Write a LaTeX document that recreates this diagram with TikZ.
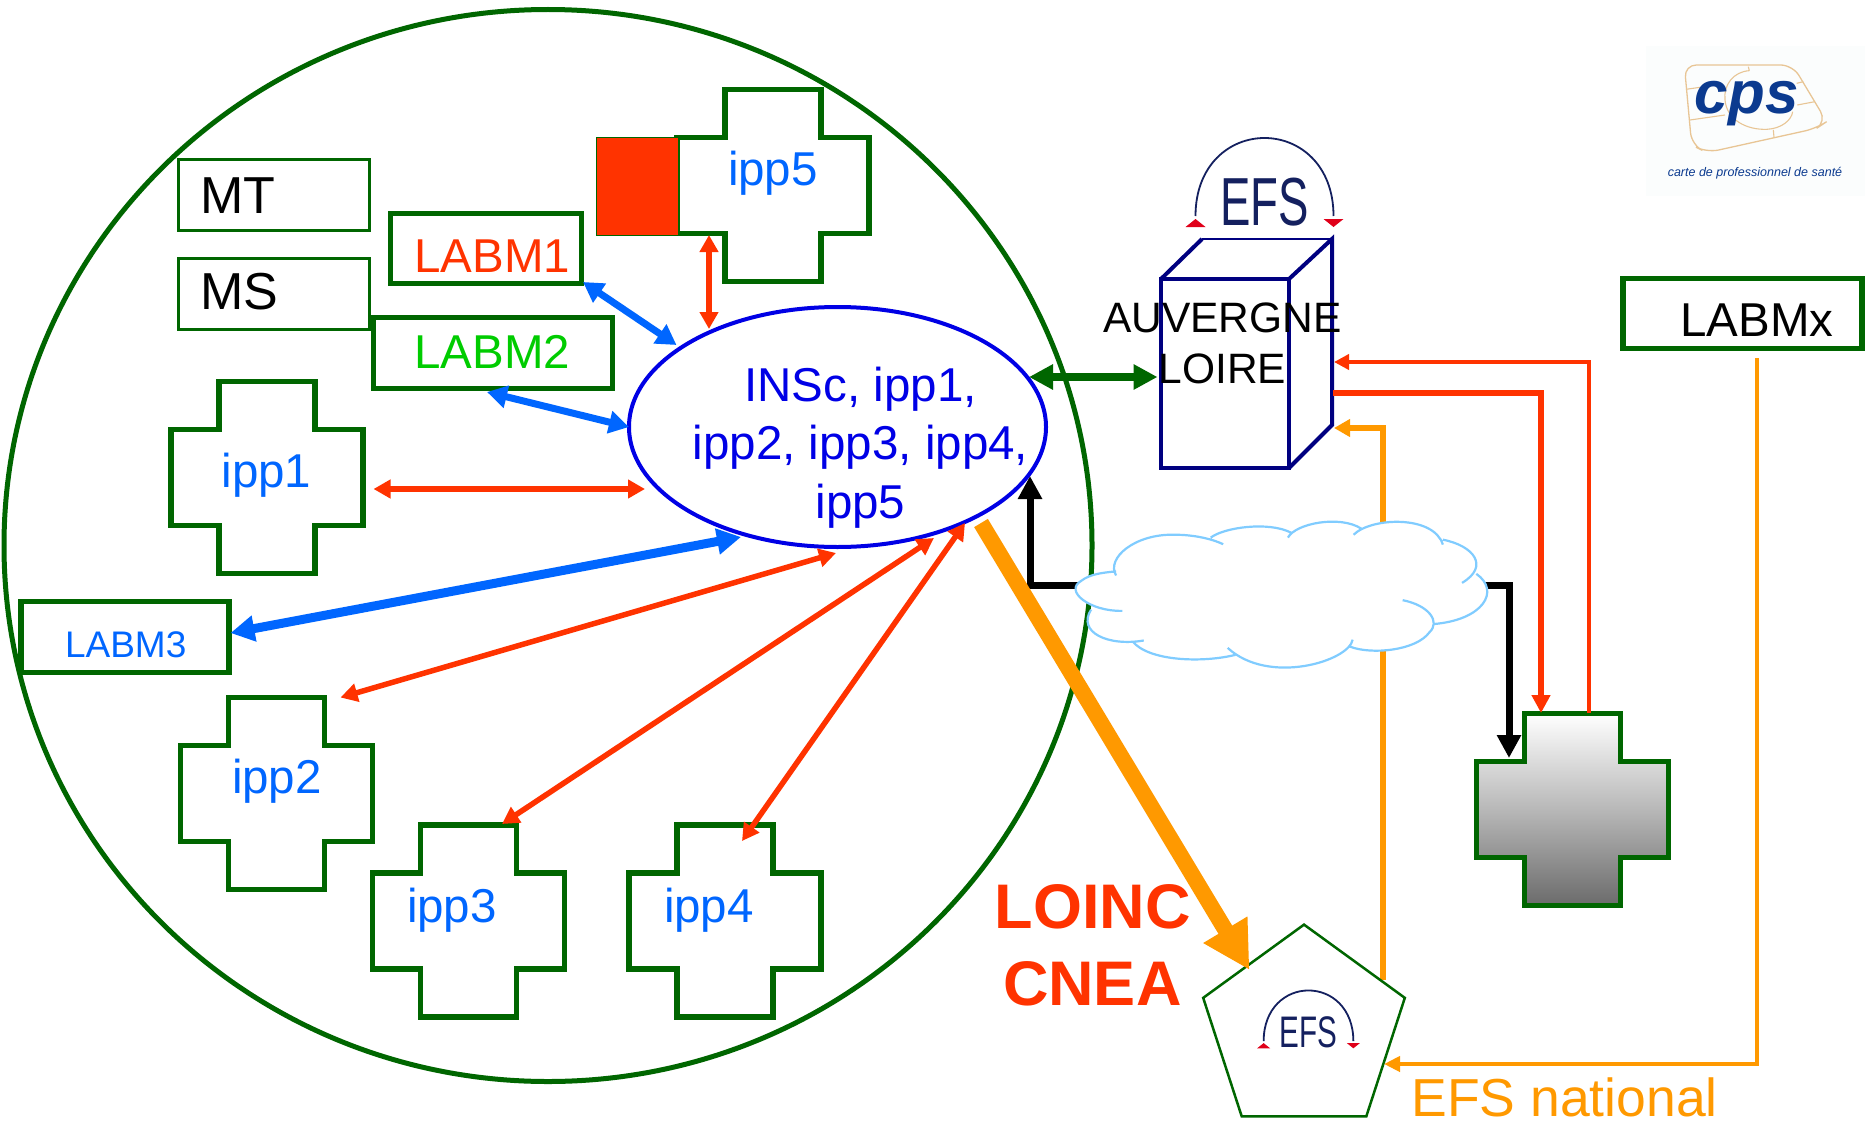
\documentclass[tikz,border=0pt]{standalone}
\usepackage{fontspec}
\usepackage{graphicx}
\setmainfont{Liberation Sans}
\usetikzlibrary{arrows.meta,shapes.geometric}
\definecolor{dgreen}{HTML}{006600}
\definecolor{myred}{HTML}{FF3300}
\definecolor{myblue}{HTML}{0066FF}
\definecolor{insblue}{HTML}{0000E6}
\definecolor{myorange}{HTML}{FF9900}
\definecolor{lgreen}{HTML}{00CC00}
\definecolor{navybox}{HTML}{000080}
\definecolor{cloudblue}{HTML}{80CCFF}
\definecolor{efsnavy}{HTML}{14205F}
\definecolor{efsred}{HTML}{E0001A}
\definecolor{cardtan}{HTML}{E8C595}
\definecolor{cpsblue}{HTML}{0B3A8F}
\definecolor{logobg}{HTML}{FBFDFD}
\tikzset{
  txt/.style={anchor=base west,inner sep=0pt,outer sep=0pt},
  fs47/.style={font=\fontsize{47.5}{59}\selectfont},
  crossline/.style={draw=dgreen,line width=5.5pt,miter limit=10},
  crossanchor/.style={minimum size=192pt,inner sep=0pt,outer sep=0pt},
  thinbox/.style={draw=dgreen,line width=3pt,inner sep=0pt,outer sep=0pt},
  thickbox/.style={draw=dgreen,line width=5.5pt,inner sep=0pt,outer sep=0pt},
  reddbl/.style={draw=myred,line width=5.5pt,{Triangle[length=17pt,width=18pt]}-{Triangle[length=17pt,width=18pt]}},
  bluedbl/.style={draw=myblue,line width=7pt,{Triangle[length=20pt,width=22pt]}-{Triangle[length=20pt,width=22pt]}},
  bigbluedbl/.style={draw=myblue,line width=9pt,{Triangle[length=24pt,width=25pt]}-{Triangle[length=24pt,width=25pt]}},
  greendbl/.style={draw=dgreen,line width=8pt,{Triangle[length=24pt,width=24pt]}-{Triangle[length=24pt,width=24pt]}},
  blackarrow/.style={draw=black,line width=7pt,-{Triangle[length=23pt,width=23pt]}},
  redthick/.style={draw=myred,line width=6pt,-{Triangle[length=18pt,width=18pt]}},
  redthin/.style={draw=myred,line width=4.5pt,-{Triangle[length=15pt,width=15pt]}},
  orangeline/.style={draw=myorange,line width=6pt,-{Triangle[length=16pt,width=17pt]}},
  orangethin/.style={draw=myorange,line width=4pt,-{Triangle[length=16pt,width=15pt]}},
  orangebig/.style={draw=myorange,line width=16pt,-{Triangle[length=47pt,width=48pt]}},
}
\newcommand{\crossnode}[4]{%
  \path[crossline,#4] (#2,#3) ++(-48,-96) -- ++(96,0) -- ++(0,48) -- ++(48,0) -- ++(0,96) -- ++(-48,0) -- ++(0,48) -- ++(-96,0) -- ++(0,-48) -- ++(-48,0) -- ++(0,-96) -- ++(48,0) -- cycle;
  \node[crossanchor] (#1) at (#2,#3) {};
}
\newcommand{\efslogo}[4]{%
  \begin{scope}[shift={(#2,#3)},scale=#4,transform shape]
    \draw[efsnavy,line width=1.8pt] (-69,-9) .. controls (-69,-60) and (-35,-87) .. (0,-87) .. controls (35,-87) and (69,-60) .. (69,-9);
    \fill[efsred] (-79,2) -- (-59,2) -- (-69,-6) -- cycle;
    \fill[efsred] (59,-6) -- (79,-6) -- (69,2) -- cycle;
    \node[anchor=base,inner sep=0pt,text=efsnavy,font=\fontsize{68}{68}\selectfont] (#1) at (0,0) {\scalebox{.67}[1]{EFS}};
  \end{scope}
}
\begin{document}
\begin{tikzpicture}[x=1pt,y=-1pt]
\useasboundingbox (0,0) rectangle (1865,1124);
\fill[white] (0,0) rectangle (1865,1124);

% main circle
\node[ellipse,draw=dgreen,line width=5pt,minimum width=1088pt,minimum height=1072pt,inner sep=0pt,outer sep=0pt] (zone) at (548,545.5) {};

% cps logo
\fill[logobg] (1646,46) rectangle (1865,196);
\begin{scope}[shift={(1600,30)},x=.3333pt,y=-.3333pt]
  \draw[cardtan,line width=1.3pt,rounded corners=12pt] (253,105) -- (578,105) -- (680,275) -- (650,295) -- (320,368) -- (275,345) -- cycle;
  \draw[cardtan,line width=1.1pt] (258,178) -- (300,172) (270,270) -- (375,255) (592,225) -- (645,215) (590,160) -- (610,155) (520,300) -- (522,322) (445,110) -- (448,122);
  \draw[cardtan,line width=1.1pt] (448,122) .. controls (400,125) and (370,165) .. (375,210) .. controls (380,270) and (440,300) .. (500,298) .. controls (545,296) and (575,270) .. (578,245);
  \node[anchor=base,inner sep=0pt,text=cpsblue,font=\fontsize{60}{60}\bfseries\itshape\selectfont] (cpsname) at (440,250) {cps};
  \node[anchor=base,inner sep=0pt,text=cpsblue,font=\fontsize{12.5}{14}\itshape\selectfont] (cpstag) at (465,440) {carte de professionnel de santé};
\end{scope}

% crosses
\crossnode{ipp1}{267}{477.5}{}
\crossnode{ipp2}{276.5}{793.5}{}
\crossnode{ipp3}{468.6}{921}{}
\crossnode{ipp4}{725}{921}{}
\crossnode{ipp5}{773}{185.5}{}
\crossnode{gross}{1572.5}{809.5}{top color=white,bottom color=black!58,middle color=black!28}
\node[fill=myred,draw=dgreen,line width=1.5pt,minimum width=82pt,minimum height=98pt,inner sep=0pt,outer sep=0pt] (redbox) at (637.5,186.5) {};

% boxes
\node[thinbox,minimum width=191pt,minimum height=71pt] (mt) at (273.5,194.5) {};
\node[thinbox,minimum width=191pt,minimum height=71pt] (ms) at (273.5,293.5) {};
\node[thickbox,minimum width=191pt,minimum height=70pt] (labm1) at (486,248.5) {};
\node[thickbox,fill=white,minimum width=239pt,minimum height=71pt] (labm2) at (493,353) {};
\node[thickbox,minimum width=208pt,minimum height=71pt] (labm3) at (125,637) {};
\node[thickbox,minimum width=239pt,minimum height=70pt] (labmx) at (1742.5,313.5) {};

% ellipse
\node[ellipse,draw=blue!90!black,line width=4pt,minimum width=417pt,minimum height=240pt,inner sep=0pt,outer sep=0pt] (ins) at (837.5,427) {};

% cube
\node[draw=navybox,line width=4pt,minimum width=128pt,minimum height=189pt,inner sep=0pt,outer sep=0pt] (cube) at (1225,373.5) {};
\draw[navybox,line width=4pt,line join=miter] (cube.north west) -- (1202,239);
\draw[navybox,line width=1.5pt] (1202,239) -- (1332,239);
\draw[navybox,line width=4pt] (cube.north east) -- (1332,239) -- (1332,425) -- (cube.south east);

% outer orange, then black connectors under cloud
\node[regular polygon,regular polygon sides=5,minimum size=212pt,inner sep=0pt,outer sep=0pt] (pent) at (1304,1030.6) {};
\draw[orangeline] ([shift={(78.6,-50.6)}]pent.center) |- ([shift={(45,54.5)}]cube.east);
\node[inner sep=0pt,minimum width=413pt,minimum height=148pt,outer sep=0pt] (net) at (1283.5,595) {};
\draw[blackarrow] ([shift={(10,-10)}]net.west) -| ([shift={(192.5,49)}]ins.center);
\draw[blackarrow] ([shift={(-10,-10)}]net.east) -| ([shift={(-63.5,-51.5)}]gross.center);

% cloud
\begin{scope}[shift={(1050,480)},x=.4464pt,y=-.4115pt]
  \def\lobes{(148,232) .. controls (125,190) and (190,130) .. (280,133) .. controls (320,133) and (360,142) .. (388,156)
    (360,140) .. controls (390,115) and (490,100) .. (540,128)
    (533,140) .. controls (550,105) and (650,85) .. (697,118)
    (680,133) .. controls (720,90) and (860,85) .. (880,157)
    (880,145) .. controls (950,160) and (985,210) .. (923,250)
    (955,228) .. controls (1010,270) and (970,340) .. (860,350)
    (790,292) .. controls (850,305) and (875,345) .. (850,370) .. controls (820,415) and (720,425) .. (672,405)
    (678,388) .. controls (670,440) and (490,500) .. (398,408)
    (415,425) .. controls (340,445) and (220,440) .. (185,392)
    (210,390) .. controls (130,405) and (60,370) .. (92,315)
    (162,318) .. controls (90,320) and (30,270) .. (70,245) .. controls (90,228) and (120,225) .. (148,222)}
  \fill[white] \lobes;
  \fill[white] (148,222) -- (388,156) -- (540,128) -- (697,118) -- (880,150) -- (955,228) -- (860,350) -- (672,405) -- (415,425) -- (185,392) -- (92,315) -- cycle;
  \draw[cloudblue,line width=2.2pt] \lobes;
\end{scope}

% pentagon
\node[regular polygon,regular polygon sides=5,draw=dgreen,line width=2.5pt,minimum size=212pt,inner sep=0pt,outer sep=0pt] (pentline) at (pent.center) {};
\efslogo{efsb}{1264.5}{225}{1}
\efslogo{efss}{1308.5}{1047}{.65}

% connectors
\draw[reddbl] ([shift={(-64,49.5)}]ipp5.center) -- ([shift={(-128.5,-98)}]ins.center);
\draw[bluedbl] ([shift={(97,33.5)}]labm1.center) -- ([shift={(-161,-82)}]ins.center);
\draw[bluedbl] ([shift={(-6,39)}]labm2.center) -- (ins.west);
\draw[reddbl] ([shift={(106.5,11.5)}]ipp1.center) -- ([shift={(-192.5,62)}]ins.center);
\draw[bigbluedbl] ([shift={(105.5,-4)}]labm3.center) -- ([shift={(-96.5,110)}]ins.center);
\draw[reddbl] ([shift={(64,-96)}]ipp2.center) -- ([shift={(-1.5,126)}]ins.center);
\draw[reddbl] ([shift={(33.4,-97)}]ipp3.center) -- ([shift={(96.5,111)}]ins.center);
\draw[reddbl] ([shift={(17,-80)}]ipp4.center) -- ([shift={(127.5,96)}]ins.center);
\draw[greendbl] ([shift={(191.5,-50)}]ins.center) -- ([shift={(-3.5,3.5)}]cube.west);
\draw[orangebig] ([shift={(143.5,96)}]ins.center) -- ([shift={(-54.5,-60.6)}]pent.center);
\draw[redthick] ([shift={(44,19.5)}]cube.east) -| ([shift={(-31.5,-96.5)}]gross.center);
\draw[redthin] ([shift={(16.5,-96.5)}]gross.center) |- ([shift={(45,-11.5)}]cube.east);
\draw[orangethin] ([shift={(14.5,44.5)}]labmx.center) |- ([shift={(80,33.4)}]pent.center);

% texts
\node[txt,font=\fontsize{52}{52}\selectfont] (tmt) at (200.5,213) {MT};
\node[txt,font=\fontsize{52}{52}\selectfont] (tms) at (200.5,309) {MS};
\node[txt,fs47,text=myred] (t1) at (414.5,272) {LABM1};
\node[txt,fs47,text=lgreen] (t2) at (414.5,368) {LABM2};
\node[txt,font=\fontsize{37}{37}\selectfont,text=myblue] (t3) at (65,657) {LABM3};
\node[txt,fs47] (tx) at (1680.5,336) {LABMx};
\node[txt,fs47,text=myblue] (ti1) at (221.5,487) {ipp1};
\node[txt,fs47,text=myblue] (ti2) at (232,793) {ipp2};
\node[txt,fs47,text=myblue] (ti3) at (407,922) {ipp3};
\node[txt,fs47,text=myblue] (ti4) at (664,922) {ipp4};
\node[txt,fs47,text=myblue] (ti5) at (728,185) {ipp5};
\node[anchor=center,inner sep=0pt,align=center,text=insblue,font=\fontsize{47.5}{58.5}\selectfont] (instext) at (860.5,447.5) {INSc, ipp1,\\ipp2, ipp3, ipp4,\\ipp5};
\node[txt,font=\fontsize{42.5}{42}\selectfont] (tauv) at (1103,332) {AUVERGNE};
\node[txt,font=\fontsize{42.5}{42}\selectfont] (tloi) at (1158.5,383) {LOIRE};
\node[txt,font=\fontsize{63}{63}\bfseries\selectfont,text=myred] (tloinc) at (994.5,928) {LOINC};
\node[txt,font=\fontsize{63}{63}\bfseries\selectfont,text=myred] (tcnea) at (1003,1005) {CNEA};
\node[txt,font=\fontsize{53.5}{53}\selectfont,text=myorange] (tnat) at (1411.5,1116) {EFS national};
\end{tikzpicture}
\end{document}
